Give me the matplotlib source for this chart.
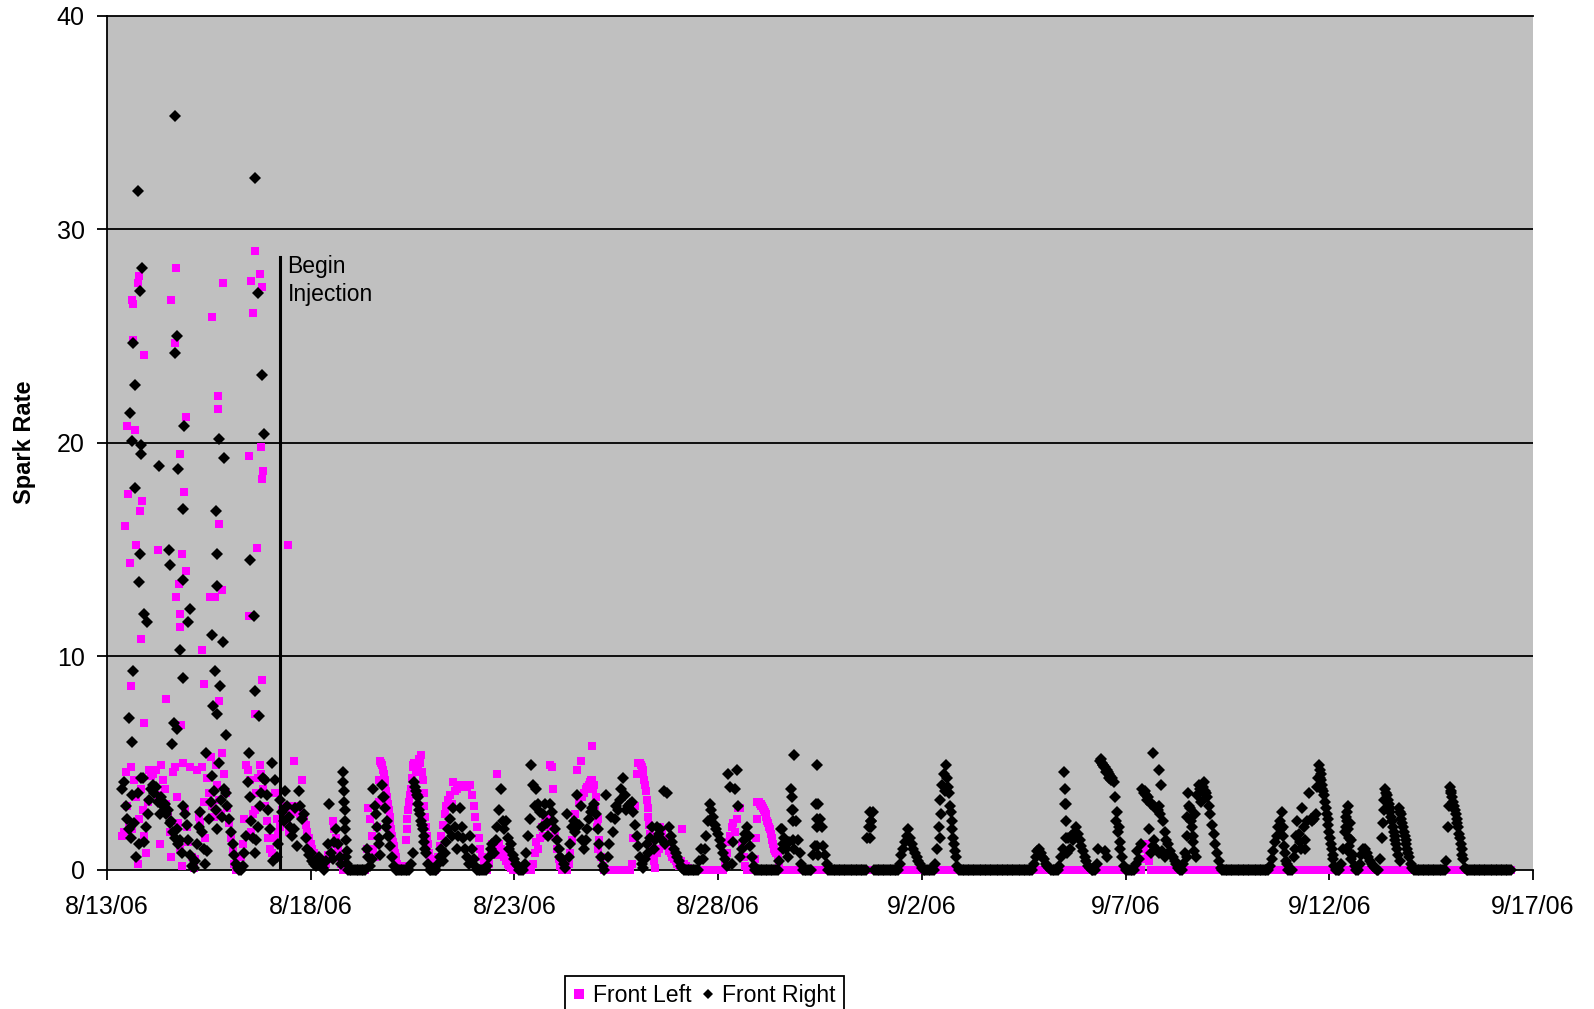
import numpy as np
import matplotlib
matplotlib.use("Agg")
import matplotlib.pyplot as plt
from matplotlib.lines import Line2D

plt.rcParams['font.family'] = ['Liberation Sans', 'DejaVu Sans']

start = np.datetime64('2006-08-13T00:00')

# hourly readings, one row per day starting 8/13/06 00:00 (None = no reading)
front_left_hourly = [
    [None, None, None, None, None, None, None, None, None, 1.6, 1.8, 4.6, 3.0, 2.2, 4.8, 1.9, 4.2, 3.4, 0.3, 2.4, 3.8, 2.8, 1.6, 0.8],
    [3.2, 4.7, 4.4, 4.5, 3.9, 4.7, 3.5, 1.2, 4.9, 4.2, 3.8, 3.1, 2.6, 1.8, 0.6, 4.6, 4.8, 3.4, 2.2, 1.0, 0.2, 5.0, 2.8, 2.0],
    [1.3, 4.8, 0.6, 0.1, 0.5, 4.7, 2.5, 2.2, 4.8, 3.2, 1.5, 4.3, 3.6, 5.3, 3.0, 2.5, 4.9, 4.0, 3.3, 2.6, 5.5, 4.5, 3.6, 2.9],
    [2.2, 1.5, 0.9, 0.3, 0, 0, 0.2, 0.6, 1.2, 2.4, 4.9, 4.7, 4.2, 1.8, 2.6, 2.8, 3.6, 4.3, 4.9, 4.5, 3.8, 3.0, 2.3, 1.5],
    [1.0, 0.8, 1.5, 3.6, 2.4, 1.7, 2.0, 2.8, 3.0, 2.6, 2.2, 1.8, 3.0, 2.7, 5.1, 2.9, 3.0, 2.8, 2.6, 4.2, 2.4, 2.1, 1.8, 1.5],
    [1.2, 1.0, 0.8, 0.6, 0.5, 0.4, 0.3, 0.2, 0.1, 0.3, 0.7, 0.5, 1.2, 2.3, 1.9, 1.5, 1.0, 0.6, 0.3, 0, 0, 0, 0, 0],
    [0, 0, 0, 0, 0, 0, 0, 0, 0, 1.0, 2.9, 2.4, 1.6, 1.0, 0.6, 2.0, 3.2, 5.1, 4.9, 4.5, 4.0, 3.4, 2.8, 2.2],
    [1.6, 1.1, 0.6, 0.3, 0.1, 0, 0, 0.2, 1.4, 2.4, 3.2, 3.8, 4.8, 5.0, 4.6, 4.9, 5.2, 5.4, 4.2, 3.0, 2.0, 1.2, 0.5, 0.1],
    [0, 0, 0.2, 0.6, 1.1, 1.6, 2.1, 2.6, 3.0, 3.3, 3.5, 3.1, 4.1, 3.7, 3.8, 3.9, 4.0, 4.0, 3.9, 4.0, 3.9, 4.0, 4.0, 3.5],
    [3.0, 2.5, 2.0, 1.5, 1.0, 0.6, 0.3, 0.1, 0, 0.3, 0.8, 1.2, 1.0, 0.7, 4.5, 1.2, 1.0, 0.8, 0.6, 0.4, 0.3, 0.2, 0.1, 0],
    [0, 0, 0, 0, 0, 0, 0, 0, 0, 0, 0, 0.3, 0.8, 1.3, 1.0, 1.5, 2.0, 1.6, 2.2, 2.5, 2.0, 4.9, 4.8, 3.8],
    [1.6, 1.0, 0.5, 0.2, 0, 0, 0, 0, 0.3, 0.8, 1.4, 2.0, 2.6, 4.7, 3.2, 5.1, 3.4, 3.6, 3.8, 3.9, 4.0, 4.2, 5.8, 4.0],
    [3.4, 2.4, 1.4, 0.6, 0.2, 0, 0, 0, 0, 0, 0, 0, 0, 0, 0, 0, 0, 0, 0, 0, 0, 0.3, 1.5, 3.0],
    [4.5, 5.0, 5.0, 4.8, 4.5, 4.0, 3.3, 2.5, 1.7, 1.0, 0.4, 0.1, 0.8, 1.0, 2.0, 1.8, 1.5, 1.3, 1.1, 0.9, 0.8, 0.6, 0.5, 0.4],
    [0.3, 0.2, 0.4, 1.9, 0.3, 0.2, 0.1, 0, 0, 0, 0, 0, 0, 0, 0, 0, 0, 0, 0, 0, 0, 0, 0, 0],
    [0, 0, 0, 0, 0.3, 0.8, 1.3, 1.6, 2.0, 2.2, 1.8, 2.4, 2.9, 2.9, 1.2, 0.6, 0.2, 0, 0, 0, 0, 0, 0.5, 3.2],
    [3.2, 3.1, 3.0, 2.8, 2.6, 2.3, 2.0, 1.7, 1.4, 1.0, 0.8, 0.6, 0.3, 0, 0, 0, 0, 0, 0, 0, 0, 0, 0, 0],
    [0, 0, 0, 0, 0, 0, 0, 0, 0, 0, 0, 0, 0, 0, 0, 0, 0, 0, 0, 0, 0, 0, 0, 0],
    [0, 0, 0, 0, 0, 0, 0, 0, 0, 0, 0, 0, 0, 0, 0, 0, 0, 0, 0, 0, 0, 0, 0, 0],
    [0, 0, 0, 0, 0, 0, 0, 0, 0, 0, 0, 0, 0, 0, 0, 0, 0, 0, 0, 0, 0, 0, 0, 0],
    [0, 0, 0, 0, 0, 0, 0, 0, 0, 0, 0, 0, 0, 0, 0, 0, 0, 0, 0, 0, 0, 0, 0, 0],
    [0, 0, 0, 0, 0, 0, 0, 0, 0, 0, 0, 0, 0, 0, 0, 0, 0, 0, 0, 0, 0, 0, 0, 0],
    [0, 0, 0, 0, 0, 0, 0, 0, 0, 0, 0, 0, 0, 0, 0, 0, 0, 0, 0, 0, 0, 0, 0, 0],
    [0, 0, 0, 0, 0, 0, 0, 0, 0, 0, 0, 0, 0, 0, 0, 0, 0, 0, 0, 0, 0, 0, 0, 0],
    [0, 0, 0, 0, 0, 0, 0, 0, 0, 0, 0, 0, 0, 0, 0, 0, 0, 0, 0, 0, 0, 0, 0, 0],
    [0, 0, 0, 0, 0, 0, 0, 0, 0, 0, 0.5, 1.0, 1.2, 0.8, 0.4, 0, 0, 0, 0, 0, 0, 0, 0, 0],
    [0, 0, 0, 0, 0, 0, 0, 0, 0, 0, 0, 0, 0, 0, 0, 0, 0, 0, 0, 0, 0, 0, 0, 0],
    [0, 0, 0, 0, 0, 0, 0, 0, 0, 0, 0, 0, 0, 0, 0, 0, 0, 0, 0, 0, 0, 0, 0, 0],
    [0, 0, 0, 0, 0, 0, 0, 0, 0, 0, 0, 0, 0, 0, 0, 0, 0, 0, 0, 0, 0, 0, 0, 0],
    [0, 0, 0, 0, 0, 0, 0, 0, 0, 0, 0, 0, 0, 0, 0, 0, 0, 0, 0, 0, 0, 0, 0, 0],
    [0, 0, 0, 0, 0, 0, 0, 0, 0, 0, 0, 0, 0, 0, 0, 0, 0, 0, 0, 0, 0, 0, 0, 0],
    [0, 0, 0, 0, 0, 0, 0, 0, 0, 0, 0, 0, 0, 0, 0, 0, 0, 0, 0, 0, 0, 0, 0, 0],
    [0, 0, 0, 0, 0, 0, 0, 0, 0, 0, 0, 0, 0, 0, 0, 0, 0, 0, 0, 0, 0, 0, 0, 0],
    [0, 0, 0, 0, 0, 0, 0, 0, 0, 0, 0, 0, 0, 0, 0, 0, 0, 0, 0, 0, 0, 0, 0, 0],
    [0, 0, 0, 0, 0, 0, 0, 0, 0, 0, 0, 0, None, None, None, None, None, None, None, None, None, None, None, None],
]

front_right_hourly = [
    [None, None, None, None, None, None, None, None, None, 3.8, 4.1, 3.0, 2.4, 1.9, 1.5, 3.5, 2.2, 0.6, 3.6, 1.2, 4.3, 4.3, 1.3, 2.0],
    [2.6, 3.3, 3.8, 4.0, 3.6, 3.9, 3.2, 2.6, 3.4, 3.0, 3.1, 2.6, 2.8, 2.2, 2.3, 1.8, 1.5, 1.9, 1.2, 1.4, 0.8, 3.0, 2.6, 2.1],
    [1.4, 0.7, 0.2, 0.1, 0.4, 1.2, 2.0, 2.7, 1.8, 1.0, 0.3, 0.9, 2.4, 3.2, 4.4, 3.7, 2.8, 1.9, 5.0, 3.3, 2.5, 3.8, 3.6, 3.0],
    [2.4, 1.8, 1.2, 0.7, 0.3, 0.1, 0, 0, 0.2, 0.8, 1.6, 4.1, 3.4, 2.3, 1.5, 0.8, 1.4, 2.0, 3.0, 3.6, 4.3, 4.2, 3.5, 2.8],
    [1.9, 5.0, 0.4, 4.2, 0.6, 1.2, 3.3, 2.7, 2.3, 3.7, 3.0, 2.5, 2.0, 1.6, 1.9, 2.9, 1.1, 3.7, 3.0, 2.4, 2.6, 1.5, 1.0, 0.7],
    [0.8, 0.4, 0.3, 0.2, 0.5, 0.6, 0.3, 0.1, 0, 0.4, 1.2, 3.1, 0.8, 0.5, 1.3, 1.9, 1.2, 0.6, 0.3, 4.6, 2.3, 0.6, 0, 0],
    [0, 0, 0, 0, 0, 0, 0, 0, 0, 1.0, 0.6, 0.2, 0.5, 3.8, 3.0, 2.0, 1.2, 0.7, 4.0, 3.4, 2.9, 2.3, 1.6, 1.1],
    [0.6, 0.2, 0, 0, 0, 0, 0, 0, 0, 0, 0, 0.3, 0.8, 4.1, 3.7, 3.4, 2.8, 2.3, 1.9, 1.3, 0.8, 0.3, 0, 0],
    [0, 0, 0, 0.3, 0.6, 1.0, 0.4, 0.8, 1.3, 1.9, 2.4, 1.6, 2.9, 2.0, 1.0, 1.6, 2.9, 2.0, 1.5, 1.0, 0.6, 0.3, 1.6, 1.0],
    [0.5, 0.2, 0, 0, 0, 0, 0, 0, 0.2, 0.6, 1.0, 1.2, 0.8, 1.4, 2.0, 2.8, 3.8, 2.3, 1.9, 2.3, 1.5, 1.0, 1.2, 0.7],
    [0.5, 0.3, 0.2, 0, 0, 0, 0.3, 0.8, 1.6, 2.4, 4.9, 4.0, 3.0, 3.8, 3.1, 2.7, 2.0, 2.6, 3.1, 2.2, 1.6, 3.1, 2.7, 2.3],
    [1.9, 1.4, 1.0, 0.6, 0.5, 0.3, 0.1, 2.6, 0.6, 1.2, 2.0, 2.3, 1.8, 3.5, 2.1, 3.0, 1.4, 1.0, 1.4, 1.9, 2.4, 2.7, 2.9, 3.1],
    [2.6, 1.9, 1.2, 0.6, 0.2, 0, 3.5, 0.6, 1.2, 2.5, 1.8, 2.4, 3.0, 2.8, 3.3, 3.8, 4.3, 3.5, 2.8, 3.0, 3.1, 3.2, 2.7, 2.1],
    [1.6, 1.1, 0.6, 0.3, 0.1, 0.5, 1.2, 0.8, 1.5, 2.0, 1.0, 1.4, 2.0, 1.7, 1.9, 1.4, 3.7, 1.2, 3.6, 2.0, 1.6, 1.3, 1.0, 0.8],
    [0.6, 0.4, 0.2, 0.1, 0, 0, 0, 0, 0, 0, 0, 0, 0, 0.4, 1.0, 0.5, 1.0, 1.6, 2.3, 3.1, 2.8, 2.5, 2.1, 1.9],
    [1.7, 1.4, 1.1, 0.8, 0.5, 0.2, 4.5, 3.9, 0.3, 1.3, 3.8, 4.7, 3.0, 0.6, 1.0, 1.4, 1.7, 2.0, 1.6, 1.1, 0.6, 0.2, 0, 0],
    [0, 0, 0, 0, 0, 0, 0, 0, 0, 0, 0, 0, 0.4, 1.9, 1.0, 1.5, 1.0, 0.6, 1.3, 3.8, 2.8, 5.4, 2.3, 1.4],
    [0.8, 0.3, 0, 0, 0, 0, 0, 0, 0.7, 1.1, 4.9, 3.1, 2.4, 2.0, 1.1, 0.7, 0.3, 0, 0, 0, 0, 0, 0, 0],
    [0, 0, 0, 0, 0, 0, 0, 0, 0, 0, 0, 0, 0, 0, 0, 0, 1.5, 2.0, 2.3, 2.7, 0, 0, 0, 0],
    [0, 0, 0, 0, 0, 0, 0, 0, 0, 0, 0, 0.3, 0.7, 1.0, 1.3, 1.6, 1.9, 1.5, 1.2, 1.0, 0.8, 0.6, 0.4, 0.3],
    [0.1, 0, 0, 0, 0, 0, 0, 0, 0.3, 1.0, 2.0, 3.3, 4.0, 4.5, 4.9, 4.3, 3.6, 2.7, 1.9, 1.2, 0.6, 0.2, 0, 0],
    [0, 0, 0, 0, 0, 0, 0, 0, 0, 0, 0, 0, 0, 0, 0, 0, 0, 0, 0, 0, 0, 0, 0, 0],
    [0, 0, 0, 0, 0, 0, 0, 0, 0, 0, 0, 0, 0, 0, 0, 0, 0, 0, 0.3, 0.6, 0.9, 1.0, 0.8, 0.6],
    [0.5, 0.3, 0.2, 0.1, 0, 0, 0, 0, 0, 0.2, 0.6, 1.0, 4.6, 3.1, 1.5, 1.0, 1.6, 1.4, 1.8, 2.0, 1.7, 1.4, 1.1, 0.9],
    [0.6, 0.4, 0.2, 0.1, 0, 0, 0, 0.3, 1.0, 5.1, 5.0, 4.9, 4.8, 4.7, 4.5, 4.4, 4.3, 4.1, 3.4, 2.7, 2.0, 1.3, 0.6, 0.2],
    [0, 0, 0, 0, 0, 0, 0.3, 0.9, 0.5, 1.2, 3.8, 3.6, 3.5, 3.4, 1.9, 3.1, 5.5, 1.4, 2.9, 2.8, 4.7, 4.0, 2.3, 1.8],
    [1.4, 1.2, 0.9, 0.7, 0.6, 0.4, 0.3, 0.1, 0, 0, 0.3, 0.8, 1.6, 3.6, 2.9, 2.0, 1.3, 2.6, 3.5, 4.0, 3.8, 3.7, 4.1, 3.7],
    [3.4, 3.0, 2.6, 2.1, 1.7, 1.2, 0.8, 0.4, 0.1, 0, 0, 0, 0, 0, 0, 0, 0, 0, 0, 0, 0, 0, 0, 0],
    [0, 0, 0, 0, 0, 0, 0, 0, 0, 0, 0, 0, 0, 0.2, 0.5, 0.9, 1.3, 1.6, 2.0, 2.3, 2.7, 1.6, 0.8, 0.3],
    [0, 0, 0, 0.6, 1.0, 2.3, 1.7, 1.3, 2.9, 2.0, 1.0, 2.3, 3.6, 2.4, 2.3, 2.4, 2.6, 3.9, 4.9, 4.5, 4.0, 3.5, 2.9, 2.4],
    [1.8, 1.2, 0.7, 0.2, 0, 0, 0, 0.3, 1.0, 1.8, 2.5, 3.0, 2.2, 1.4, 0.7, 0.2, 0, 0, 0.3, 0.7, 1.0, 1.0, 0.8, 0.6],
    [0.4, 0.3, 0.2, 0.1, 0, 0, 0.5, 1.5, 2.8, 3.8, 3.5, 3.1, 2.7, 2.3, 1.8, 1.4, 1.0, 2.9, 2.6, 2.2, 1.8, 1.4, 1.0, 0.6],
    [0.3, 0.1, 0, 0, 0, 0, 0, 0, 0, 0, 0, 0, 0, 0, 0, 0, 0, 0, 0, 0, 0, 0.4, 2.0, 3.9],
    [3.6, 3.2, 2.8, 2.4, 2.0, 1.5, 1.0, 0.5, 0.1, 0, 0, 0, 0, 0, 0, 0, 0, 0, 0, 0, 0, 0, 0, 0],
    [0, 0, 0, 0, 0, 0, 0, 0, 0, 0, 0, 0, None, None, None, None, None, None, None, None, None, None, None, None],
]

# readings between the hourly ones: (hours after 8/13/06 00:00, spark rate)
front_left_extra = [
    (87.5, 29.0), (89.9, 27.9), (85.1, 27.6), (91.6, 27.3), (86.3, 26.1), (18.6, 27.8), (18.0, 27.5),
    (40.7, 28.2), (68.3, 27.5), (37.7, 26.7), (15.0, 26.7), (15.6, 26.5), (15.6, 24.8), (21.6, 24.1),
    (61.7, 25.9), (40.1, 24.7), (12.0, 20.8), (16.8, 20.6), (65.3, 22.2), (65.3, 21.6), (46.7, 21.2),
    (43.1, 19.5), (83.9, 19.4), (91.0, 19.8), (92.2, 18.7), (91.6, 18.3), (12.6, 17.6), (45.5, 17.7),
    (20.4, 17.3), (19.2, 16.8), (10.8, 16.1), (65.9, 16.2), (106.6, 15.2), (88.1, 15.1), (17.4, 15.2),
    (30.0, 15.0), (44.3, 14.8), (13.8, 14.4), (46.7, 14.0), (42.5, 13.4), (67.7, 13.1), (63.5, 12.8),
    (40.7, 12.8), (60.5, 12.8), (43.1, 12.0), (83.9, 11.9), (43.1, 11.4), (19.8, 10.8), (55.7, 10.3),
    (14.4, 8.6), (56.9, 8.7), (91.6, 8.9), (34.7, 8.0), (65.9, 7.9), (87.5, 7.3), (21.6, 6.9), (43.7, 6.8),
    (160.5, 4.2), (161.5, 5.0), (162.5, 4.7), (163.5, 4.2), (164.5, 3.7), (165.5, 3.1), (166.5, 2.5),
    (167.5, 1.9), (168.5, 1.3), (169.5, 0.8), (170.5, 0.4), (176.5, 1.9), (177.5, 2.8), (178.5, 3.5),
    (179.5, 4.3), (180.5, 4.9), (184.5, 5.0), (185.5, 4.6), (186.5, 3.6), (187.5, 2.5), (188.5, 1.6),
    (189.5, 0.8), (283.5, 3.9), (284.5, 4.1), (285.5, 4.2), (286.5, 3.8), (287.5, 3.0), (288.5, 2.0),
    (289.5, 1.0), (313.5, 5.0), (314.5, 4.9), (315.5, 4.7), (316.5, 4.2), (317.5, 3.7), (318.5, 2.9),
    (319.5, 2.1), (320.5, 1.3), (321.5, 0.7), (382.5, 1.5), (383.2, 2.4), (383.5, 3.2), (384.5, 3.1),
    (385.5, 3.0), (386.5, 2.9), (387.5, 2.7), (388.5, 2.5), (389.5, 2.2), (390.5, 1.9), (391.5, 1.5),
    (392.5, 1.2), (393.5, 0.9),
]

front_right_extra = [
    (13.2, 7.1), (13.8, 21.4), (15.0, 6.0), (15.0, 20.1), (15.6, 9.3), (15.6, 24.7), (16.7, 22.7),
    (16.8, 17.9), (18.0, 31.8), (18.6, 13.5), (19.2, 14.8), (19.2, 27.1), (19.8, 19.5), (19.9, 19.9),
    (20.4, 28.2), (21.6, 12.0), (23.4, 11.6), (30.5, 18.9), (36.5, 15.0), (37.1, 14.3), (38.3, 5.9),
    (39.5, 6.9), (40.1, 35.3), (40.1, 24.2), (41.3, 25.0), (41.3, 6.6), (41.9, 18.8), (43.1, 10.3),
    (44.9, 16.9), (44.9, 13.6), (44.9, 9.0), (45.5, 20.8), (47.5, 11.6), (49.1, 12.2), (58.1, 5.5),
    (62.3, 7.7), (62.0, 11.0), (63.5, 9.3), (64.1, 16.8), (64.7, 14.8), (64.7, 13.3), (64.7, 7.3),
    (65.9, 20.2), (66.5, 8.6), (68.3, 10.7), (68.9, 19.3), (70.1, 6.3), (83.9, 5.5), (84.5, 14.5),
    (86.9, 11.9), (87.5, 32.4), (87.5, 8.4), (88.7, 27.0), (89.3, 7.2), (91.6, 23.2), (92.8, 20.4),
    (139.3, 4.1), (139.6, 3.7), (139.9, 3.2), (140.2, 2.8), (140.5, 1.9), (140.8, 1.4), (141.2, 0.9),
    (141.5, 0.3), (162.5, 3.4), (164.5, 2.0), (165.5, 1.6), (158.5, 2.6), (160.5, 1.5), (181.5, 3.9),
    (182.5, 3.5), (183.5, 3.1), (184.5, 2.6), (185.5, 2.1), (186.5, 1.6), (187.5, 1.0), (397.5, 1.9),
    (398.5, 1.2), (403.3, 3.4), (403.6, 2.8), (403.9, 2.3), (404.2, 1.4), (404.5, 1.0), (417.6, 3.1),
    (418.2, 2.4), (418.5, 2.0), (418.3, 1.1), (418.6, 0.7), (449.6, 2.7), (449.8, 2.3), (450.0, 2.0),
    (449.7, 1.5), (490.5, 1.5), (491.5, 2.6), (493.5, 3.7), (495.5, 3.9), (496.5, 3.0), (497.5, 2.3),
    (498.5, 1.5), (499.5, 0.9), (564.3, 3.8), (564.6, 3.1), (564.9, 2.3), (565.2, 1.5), (565.5, 0.8),
    (585.5, 5.2), (586.5, 4.9), (587.5, 4.8), (588.5, 4.6), (589.5, 4.6), (590.5, 4.3), (591.5, 4.2),
    (588.0, 0.9), (589.0, 0.6), (594.5, 2.3), (595.5, 1.8), (596.5, 1.0), (611.5, 3.7), (612.5, 3.3),
    (614.5, 3.2), (616.5, 3.0), (617.5, 2.9), (619.5, 3.0), (620.5, 2.6), (615.0, 0.8), (616.0, 1.1),
    (618.0, 1.0), (620.0, 0.8), (621.5, 0.9), (623.5, 0.6), (636.5, 2.5), (637.5, 3.0), (638.5, 2.3),
    (639.5, 1.6), (640.5, 0.9), (641.5, 0.6), (636.0, 0.6), (644.5, 3.2), (645.5, 3.9), (647.5, 3.6),
    (691.5, 1.9), (692.5, 2.0), (693.3, 1.1), (694.5, 0.4), (700.5, 1.6), (703.5, 1.0), (705.5, 1.4),
    (713.5, 4.3), (714.3, 4.7), (714.7, 4.3), (715.3, 4.2), (715.7, 3.8), (716.5, 3.7), (717.5, 3.2),
    (718.5, 2.6), (719.5, 2.1), (720.5, 1.5), (721.5, 1.0), (722.5, 0.5), (730.0, 2.0), (730.3, 2.7),
    (730.7, 2.3), (731.3, 1.9), (731.6, 1.5), (731.9, 1.1), (732.3, 0.8), (732.6, 0.5), (751.5, 2.2),
    (752.5, 3.3), (753.5, 3.6), (754.5, 3.3), (755.5, 2.9), (756.5, 2.5), (757.5, 2.0), (758.5, 1.6),
    (759.5, 1.2), (760.5, 0.7), (761.5, 0.4), (761.5, 2.7), (762.5, 2.4), (763.5, 2.0), (764.5, 1.6),
    (765.5, 1.2), (766.5, 0.8), (790.5, 3.0), (791.5, 3.7), (792.5, 3.4), (793.5, 3.0), (794.5, 2.6),
    (795.5, 2.2), (796.5, 1.7), (797.5, 1.2), (798.5, 0.7),
]

xtick_dates = ['2006-08-13', '2006-08-18', '2006-08-23', '2006-08-28',
               '2006-09-02', '2006-09-07', '2006-09-12', '2006-09-17']
xtick_labels = ['8/13/06', '8/18/06', '8/23/06', '8/28/06',
                '9/2/06', '9/7/06', '9/12/06', '9/17/06']
yticks = [0, 10, 20, 30, 40]

injection_hour = 101.8
injection_top = 28.7


def to_time(hours):
    return start + np.round(np.asarray(hours, dtype=float) * 60).astype('timedelta64[m]')


def series(hourly, extra):
    vals = np.array(hourly, dtype=float).ravel()
    hrs = np.arange(vals.size)
    ok = ~np.isnan(vals)
    h = np.concatenate([hrs[ok], [e[0] for e in extra]])
    v = np.concatenate([vals[ok], [e[1] for e in extra]])
    return to_time(h), v


fl_t, fl_v = series(front_left_hourly, front_left_extra)
fr_t, fr_v = series(front_right_hourly, front_right_extra)

fig = plt.figure(figsize=(15.94, 10.09), dpi=100)
ax = fig.add_axes([0.0671, 0.1378, 0.8946, 0.8464])
ax.set_facecolor('#C0C0C0')

ax.plot(fl_t, fl_v, linestyle='none', marker='s', markersize=6.4,
        markerfacecolor='#FF00FF', markeredgewidth=0, zorder=3, clip_on=False)
ax.plot(fr_t, fr_v, linestyle='none', marker='D', markersize=6.1,
        markerfacecolor='black', markeredgewidth=0, zorder=4, clip_on=False)

# begin injection marker
inj_t = to_time([injection_hour, injection_hour])
ax.plot(inj_t, [0, injection_top], color='black', linewidth=2.2, zorder=5)
ax.text(to_time(injection_hour + 4.6), injection_top + 0.1, 'Begin\nInjection',
        fontsize=16.5, ha='left', va='top', linespacing=1.3, zorder=6)

ax.set_ylim(0, 40)
ax.set_xlim(np.datetime64(xtick_dates[0]), np.datetime64(xtick_dates[-1]))
ax.set_yticks(yticks)
ax.set_xticks([np.datetime64(d) for d in xtick_dates])
ax.set_xticklabels(xtick_labels)

for y in yticks[1:-1]:
    ax.axhline(y, color='black', linewidth=1.3, zorder=1)

for side in ['left', 'bottom', 'top']:
    ax.spines[side].set_color('black')
    ax.spines[side].set_linewidth(1.3)
ax.spines['right'].set_visible(False)

ax.tick_params(axis='both', direction='out', length=7, width=1.3, labelsize=18, colors='black')
ax.tick_params(axis='y', pad=9)
ax.tick_params(axis='x', pad=11)

fig.text(24.5 / 1594, 1 - 442 / 1009, 'Spark Rate', rotation=90, ha='center', va='center',
         fontsize=17, fontweight='bold')

handles = [
    Line2D([], [], linestyle='none', marker='s', markersize=7, markerfacecolor='#FF00FF', markeredgewidth=0),
    Line2D([], [], linestyle='none', marker='D', markersize=5.2, markerfacecolor='black', markeredgewidth=0),
]
leg = fig.legend(handles, ['Front Left', 'Front Right'], loc='upper left',
                 bbox_to_anchor=(565 / 1594, 1 - 976 / 1009), ncol=2, fontsize=16.6,
                 frameon=True, fancybox=False, framealpha=1, edgecolor='black',
                 borderpad=0.35, handlelength=0.5, handletextpad=0.35, columnspacing=0.5,
                 borderaxespad=0)
leg.get_frame().set_linewidth(1.3)

fig.savefig('out.png', dpi=100)
